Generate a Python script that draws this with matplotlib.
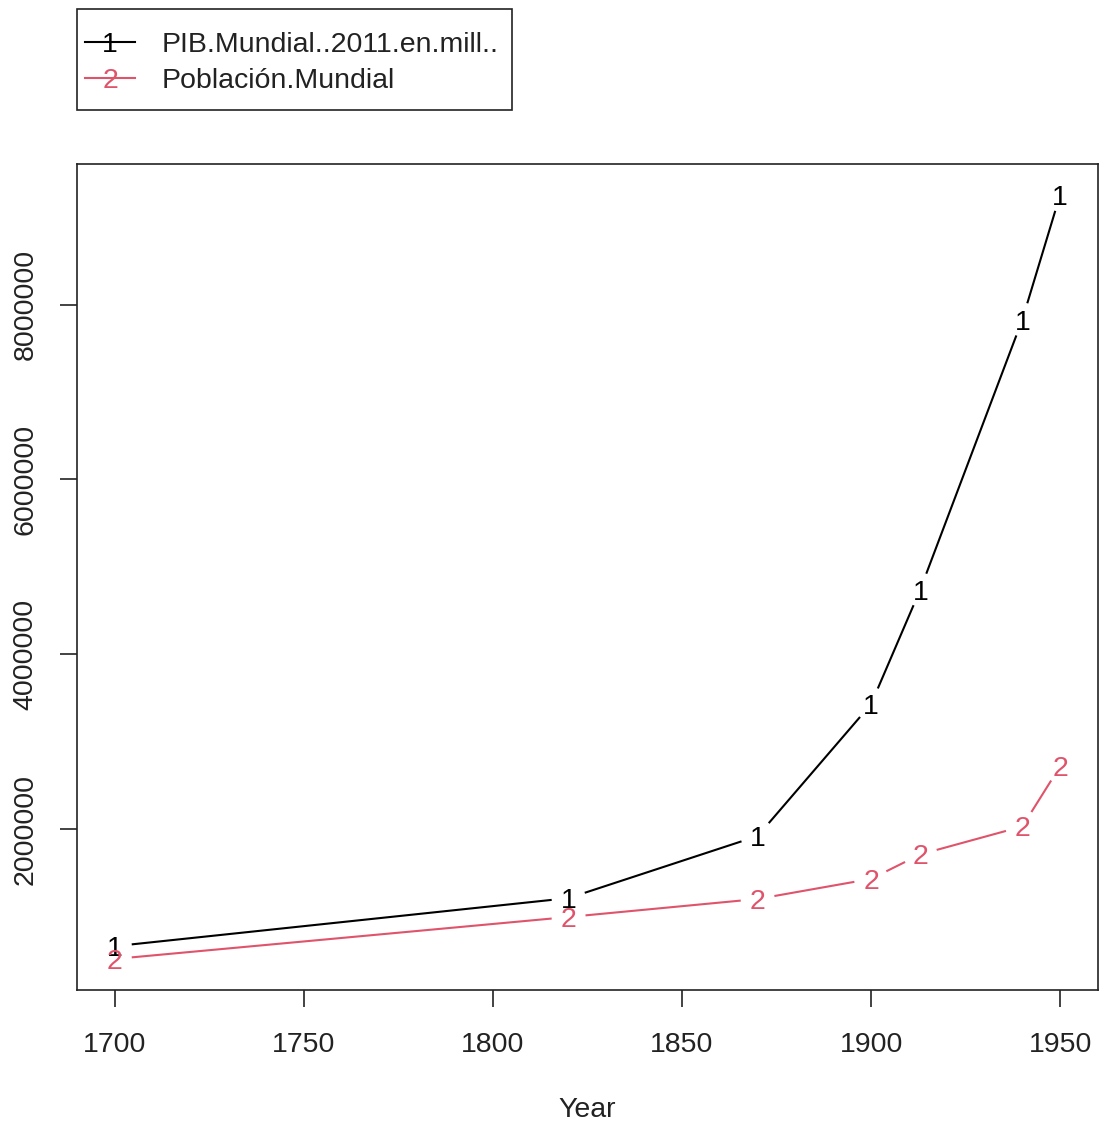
import numpy as np
import matplotlib
matplotlib.use("Agg")
import matplotlib.pyplot as plt
from matplotlib.lines import Line2D
from matplotlib.patches import Rectangle

plt.rcParams['font.family'] = ['Liberation Sans', 'DejaVu Sans']

years = [1700, 1820, 1870, 1900, 1913, 1940, 1950]
pib = [660000, 1210000, 1920000, 3430000, 4740000, 7830000, 9260000]
poblacion = [514000, 994000, 1200000, 1430000, 1710000, 2030000, 2720000]
series_names = ["PIB.Mundial..2011.en.mill..", "Población.Mundial"]
series_syms = ["1", "2"]
series_colors = ["#000000", "#DF536B"]
xticks = [1700, 1750, 1800, 1850, 1900, 1950]
yticks = [2000000, 4000000, 6000000, 8000000]

FS = 20.5
W, H = 1100, 1124
fig = plt.figure(figsize=(W / 100, H / 100), dpi=100)
ax = fig.add_axes([77 / W, (H - 989.5) / H, (1098 - 77) / W, (989.5 - 164) / H])

# R-style 4% extension
xr = max(years) - min(years)
ax.set_xlim(min(years) - 0.04 * xr, max(years) + 0.04 * xr)
allv = pib + poblacion
yr = max(allv) - min(allv)
ax.set_ylim(min(allv) - 0.04 * yr, max(allv) + 0.04 * yr)

ax.set_xticks(xticks)
ax.set_xticklabels([str(t) for t in xticks])
ax.set_yticks(yticks)
ax.set_yticklabels([str(t) for t in yticks], rotation=90, va='center')
ax.tick_params(axis='both', direction='out', length=12.5, width=1.2, labelsize=FS,
               colors='#222222')
ax.tick_params(axis='x', pad=18)
ax.tick_params(axis='y', pad=15)
for s in ax.spines.values():
    s.set_linewidth(1.2)
    s.set_color('#222222')
ax.set_xlabel("Year", fontsize=FS, labelpad=28, color='#222222')

fig.canvas.draw()
gap = 17.0
for vals, sym, col in zip([pib, poblacion], series_syms, series_colors):
    pts = ax.transData.transform(np.column_stack([years, vals]))
    for i in range(len(pts) - 1):
        p0, p1 = pts[i], pts[i + 1]
        d = p1 - p0
        L = np.hypot(*d)
        if L <= 2 * gap:
            continue
        u = d / L
        seg = np.array([p0 + u * gap, p1 - u * gap])
        segd = ax.transData.inverted().transform(seg)
        ax.plot(segd[:, 0], segd[:, 1], color=col, lw=1.5, solid_capstyle='butt')
    for x, y in zip(years, vals):
        ax.text(x, y, sym, color=col, fontsize=FS, ha='center', va='center_baseline')

# legend (outside plot, top-left)
fig.patches.append(Rectangle((77 / W, (H - 110) / H), (512 - 77) / W, (110 - 9) / H,
                             transform=fig.transFigure, fill=False, lw=1.2,
                             edgecolor='#222222'))
for k, (name, sym, col) in enumerate(zip(series_names, series_syms, series_colors)):
    yy = (H - (42 + 36 * k)) / H
    fig.lines.append(Line2D([85 / W, 135 / W], [yy, yy], transform=fig.transFigure,
                            color=col, lw=1.5))
    fig.text(110 / W, yy, sym, color=col, fontsize=FS, ha='center', va='center_baseline')
    fig.text(162 / W, yy, name, color='#222222', fontsize=FS, ha='left',
             va='center_baseline')

fig.savefig("out.png", dpi=100)
